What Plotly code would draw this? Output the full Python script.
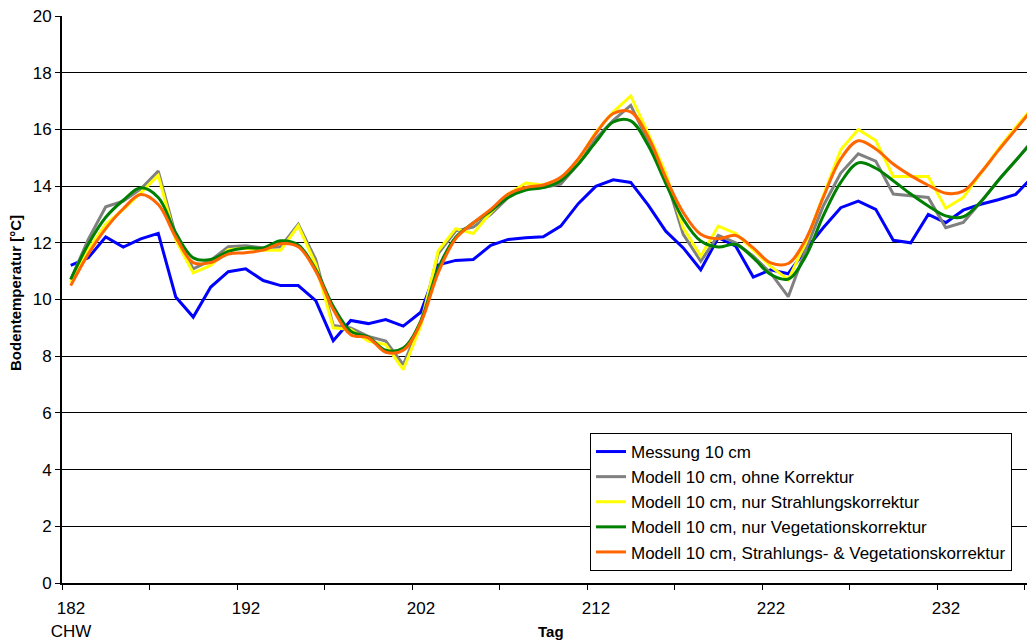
import plotly.graph_objects as go

DAYS = list(range(182, 238))

MESSUNG = [11.2, 11.47, 12.21, 11.85, 12.14, 12.33, 10.09, 9.38, 10.44, 10.98,
           11.08, 10.67, 10.49, 10.49, 9.96, 8.55, 9.26, 9.15, 9.29, 9.06,
           9.55, 11.22, 11.38, 11.41, 11.91, 12.12, 12.18, 12.21, 12.59, 13.38,
           13.99, 14.22, 14.13, 13.33, 12.41, 11.82, 11.05, 12.18, 11.88, 10.79,
           11.05, 10.91, 11.76, 12.53, 13.24, 13.47, 13.18, 12.09, 12.0, 13.0,
           12.71, 13.15, 13.36, 13.52, 13.71, 14.35]

OHNE = [10.7, 12.12, 13.27, 13.47, 13.9, 14.53, 12.25, 11.08, 11.38, 11.86,
        11.9, 11.82, 11.86, 12.65, 11.41, 9.08, 9.0, 8.7, 8.53, 7.7,
        9.18, 11.62, 12.42, 12.55, 13.0, 13.6, 13.95, 13.95, 14.07, 14.78,
        15.67, 16.32, 16.85, 15.55, 14.3, 12.3, 11.35, 12.26, 12.0, 11.53,
        10.93, 10.1, 11.76, 13.3, 14.46, 15.14, 14.88, 13.72, 13.66, 13.6,
        12.53, 12.72, 13.44, 14.2, 14.9, 15.65]

STRAHLUNG = [10.6, 11.75, 12.65, 13.18, 13.76, 14.38, 12.1, 10.94, 11.2, 11.76,
             11.82, 11.74, 11.74, 12.6, 11.24, 9.0, 8.94, 8.53, 8.41, 7.53,
             9.06, 11.72, 12.5, 12.33, 13.07, 13.72, 14.11, 14.04, 14.25, 14.9,
             15.9, 16.62, 17.18, 15.85, 14.45, 12.53, 11.53, 12.59, 12.33, 11.76,
             11.17, 10.7, 12.0, 13.66, 15.28, 16.0, 15.61, 14.34, 14.34, 14.34,
             13.22, 13.6, 14.45, 15.3, 16.08, 16.8]

VEGETATION = [10.71, 11.95, 12.9, 13.5, 13.94, 13.6, 12.35, 11.47, 11.41, 11.7,
              11.82, 11.82, 12.07, 11.92, 11.06, 9.76, 8.88, 8.68, 8.21, 8.29,
              9.24, 11.1, 12.2, 12.7, 13.12, 13.6, 13.86, 13.95, 14.19, 14.78,
              15.55, 16.26, 16.3, 15.43, 14.1, 12.83, 12.06, 11.85, 11.94, 11.47,
              10.88, 10.72, 11.53, 12.95, 14.13, 14.82, 14.63, 14.19, 13.72, 13.3,
              12.95, 12.92, 13.45, 14.2, 14.9, 15.6]

BEIDE = [10.49, 11.6, 12.5, 13.2, 13.7, 13.35, 12.2, 11.3, 11.3, 11.6,
         11.65, 11.74, 11.97, 11.86, 11.0, 9.65, 8.76, 8.65, 8.14, 8.21,
         9.18, 10.95, 12.15, 12.7, 13.18, 13.72, 13.95, 14.04, 14.31, 14.96,
         15.85, 16.56, 16.62, 15.73, 14.3, 13.07, 12.3, 12.14, 12.26, 11.82,
         11.29, 11.27, 12.12, 13.6, 14.96, 15.6, 15.31, 14.78, 14.37, 14.03,
         13.75, 13.82, 14.47, 15.25, 16.0, 16.75]

SERIES_NAMES = ["Messung 10 cm",
                "Modell 10 cm, ohne Korrektur",
                "Modell 10 cm, nur Strahlungskorrektur",
                "Modell 10 cm, nur Vegetationskorrektur",
                "Modell 10 cm, Strahlungs- & Vegetationskorrektur"]
COLORS = ["#0000FF", "#808080", "#FFFF00", "#008000", "#FF6600"]
SHAPES = ["linear", "linear", "linear", "spline", "spline"]

X_TICK_LABELS = ["182<br>CHW", "", "192", "", "202", "", "212", "", "222", "", "232", ""]
Y_TICKS = list(range(0, 21, 2))

FONT = "Liberation Sans, Arial, sans-serif"

fig = go.Figure()
for name, vals, col, shp in zip(SERIES_NAMES, [MESSUNG, OHNE, STRAHLUNG, VEGETATION, BEIDE], COLORS, SHAPES):
    fig.add_trace(go.Scatter(x=DAYS, y=vals, mode="lines", name=name,
                             line=dict(color=col, width=3, shape=shp)))

tick_pos = [181.5 + 5 * k for k in range(len(X_TICK_LABELS))]

fig.update_layout(
    width=1027, height=641,
    margin=dict(l=62, r=0, t=16, b=58, pad=0),
    paper_bgcolor="white", plot_bgcolor="white",
    font=dict(family=FONT, size=17, color="black"),
    showlegend=True,
    legend=dict(x=(590 - 62) / 965, y=(583 - 433) / 567, xanchor="left", yanchor="top",
                bordercolor="black", borderwidth=1, bgcolor="white",
                font=dict(family=FONT, size=17, color="black"),
                tracegroupgap=0),
    xaxis=dict(range=[181.5, 181.5 + 965 / 17.5], tickvals=tick_pos, ticktext=X_TICK_LABELS,
               ticklabelshift=9, ticklabelstandoff=4, ticks="outside", ticklen=5, tickwidth=1,
               tickcolor="black", showline=True, linecolor="black", linewidth=2,
               showgrid=False, zeroline=False, tickfont=dict(size=17)),
    yaxis=dict(range=[0, 20], tickvals=Y_TICKS, ticks="outside", ticklen=5, tickwidth=1,
               tickcolor="black", showline=True, linecolor="black", linewidth=2,
               showgrid=True, gridcolor="black", gridwidth=1, zeroline=False,
               tickfont=dict(size=17)),
    annotations=[
        dict(text="<b>Bodentemperatur [°C]</b>", xref="paper", yref="paper",
             x=(15 - 62) / 965, y=(583 - 293) / 567, xanchor="center", yanchor="middle",
             textangle=-90, showarrow=False, font=dict(family=FONT, size=15, color="black")),
        dict(text="<b>Tag</b>", xref="paper", yref="paper",
             x=(551 - 62) / 965, y=(583 - 631) / 567, xanchor="center", yanchor="middle",
             showarrow=False, font=dict(family=FONT, size=15, color="black")),
    ],
)

fig.write_html("out.html", config={"displayModeBar": False},
               post_script="document.body.style.margin='0';document.body.style.overflow='hidden';")
